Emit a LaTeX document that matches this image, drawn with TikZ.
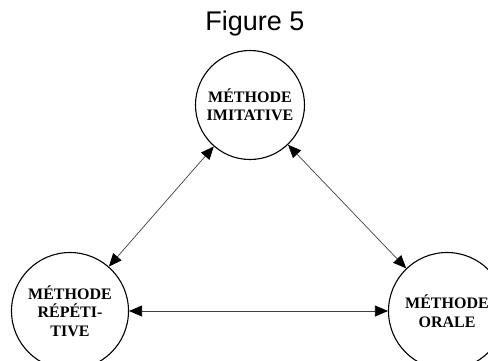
\documentclass[tikz,border=0pt]{standalone}
\usepackage{fontspec}
\setmainfont{Liberation Serif}
\newfontfamily\titlefont{Liberation Sans}
\usepackage{tikz}
\usetikzlibrary{arrows.meta}

\begin{document}
\begin{tikzpicture}[
    x=1pt, y=-1pt,
    methode/.style={
      circle, draw=black, line width=1.1pt, inner sep=0pt,
      align=center, font=\fontsize{16}{18.5}\selectfont\bfseries
    },
    rel/.style={{Triangle[length=13pt,width=11pt,color=black]}-{Triangle[length=13pt,width=11pt,color=black]},
      line width=0.7pt, black!75}
  ]
    \clip (0,0) rectangle (488,360);
    \node[font=\titlefont\fontsize{27}{30}\selectfont] (titre) at (255,24) {Figure 5};
    \node[methode, minimum size=109pt] (imitative) at (250,105) {MÉTHODE\\IMITATIVE};
    \node[methode, minimum size=117pt] (repetitive) at (70,311) {MÉTHODE\\RÉPÉTI-\\TIVE};
    \node[methode, minimum size=117pt] (orale) at (447,311) {MÉTHODE\\ORALE};
    \draw[rel] (imitative) -- (repetitive);
    \draw[rel] (imitative) -- (orale);
    \draw[rel] (repetitive) -- (orale);
  \end{tikzpicture}
\end{document}
